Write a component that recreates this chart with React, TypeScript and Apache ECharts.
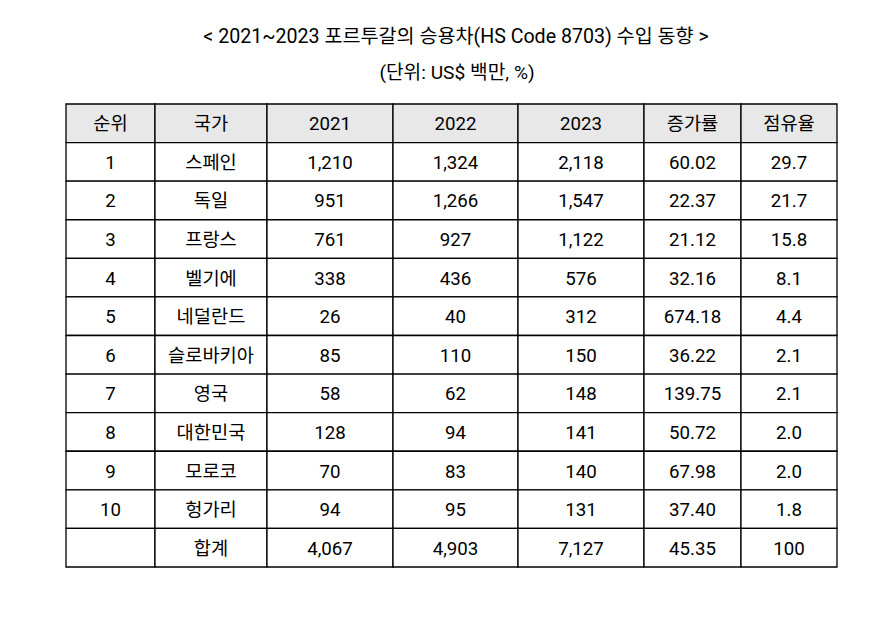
import React, { useEffect, useRef } from "react";
import * as echarts from "echarts";

const titleText = "< 2021~2023 포르투갈의 승용차(HS Code 8703) 수입 동향 >";
const unitText = "(단위: US$ 백만, %)";
const headers = ["순위", "국가", "2021", "2022", "2023", "증가률", "점유율"];
const ranks = ["1", "2", "3", "4", "5", "6", "7", "8", "9", "10", ""];
const countries = ["스페인", "독일", "프랑스", "벨기에", "네덜란드", "슬로바키아", "영국", "대한민국", "모로코", "헝가리", "합계"];
const v2021 = [1210, 951, 761, 338, 26, 85, 58, 128, 70, 94, 4067];
const v2022 = [1324, 1266, 927, 436, 40, 110, 62, 94, 83, 95, 4903];
const v2023 = [2118, 1547, 1122, 576, 312, 150, 148, 141, 140, 131, 7127];
const growth = ["60.02", "22.37", "21.12", "32.16", "674.18", "36.22", "139.75", "50.72", "67.98", "37.40", "45.35"];
const share = ["29.7", "21.7", "15.8", "8.1", "4.4", "2.1", "2.1", "2.0", "2.0", "1.8", "100"];

// layout: column boundaries in axis units (pixels of table width)
const colEdges = [0, 89, 201, 327, 452, 578, 675, 771];
const FONT = "Roboto, 'Noto Sans CJK KR', sans-serif";

export default function App() {
  const ref = useRef<HTMLDivElement>(null);
  useEffect(() => {
    document.body.style.margin = "0";
    const chart = echarts.init(ref.current!, undefined, { renderer: "svg" });
    const fmt = (n: number) => n.toLocaleString("en-US");
    const cells: any[] = [];
    headers.forEach((h, c) => cells.push([c, 0, h, 1]));
    for (let r = 0; r < countries.length; r++) {
      const row = [ranks[r], countries[r], fmt(v2021[r]), fmt(v2022[r]), fmt(v2023[r]), growth[r], share[r]];
      row.forEach((t, c) => cells.push([c, r + 1, t, 0]));
    }
    const nRows = countries.length + 1;
    chart.setOption({
      animation: false,
      backgroundColor: "#ffffff",
      title: [
        { text: titleText, left: 451, top: 22, textAlign: "center", textStyle: { fontFamily: FONT, fontSize: 19.6, fontWeight: "normal", color: "#000" } },
        { text: unitText, left: 452, top: 58, textAlign: "center", textStyle: { fontFamily: FONT, fontSize: 19.2, fontWeight: "normal", color: "#000" } },
      ],
      grid: { left: 66, right: 40, top: 104, bottom: 56 },
      xAxis: { type: "value", min: 0, max: colEdges[colEdges.length - 1], show: false },
      yAxis: { type: "value", min: 0, max: nRows, inverse: true, show: false },
      series: [
        {
          type: "custom",
          data: cells,
          renderItem: (params: any, api: any) => {
            const c = api.value(0);
            const r = api.value(1);
            const isHead = api.value(3) === 1;
            const p0 = api.coord([colEdges[c], r]);
            const p1 = api.coord([colEdges[c + 1], r + 1]);
            const text = cells[params.dataIndex][2];
            return {
              type: "group",
              children: [
                {
                  type: "rect",
                  shape: { x: p0[0], y: p0[1], width: p1[0] - p0[0], height: p1[1] - p0[1] },
                  style: { fill: isHead ? "#e8e8e8" : "#ffffff", stroke: "#000", lineWidth: 1.3 },
                },
                {
                  type: "text",
                  style: {
                    text,
                    x: (p0[0] + p1[0]) / 2,
                    y: (p0[1] + p1[1]) / 2 + 1,
                    align: "center",
                    verticalAlign: "middle",
                    fontFamily: FONT,
                    fontSize: 18.7,
                    fill: "#000",
                  },
                },
              ],
            };
          },
        },
      ],
    });
    return () => chart.dispose();
  }, []);
  return <div ref={ref} style={{ position: "absolute", left: 0, top: 0, width: 877, height: 623 }} />;
}
